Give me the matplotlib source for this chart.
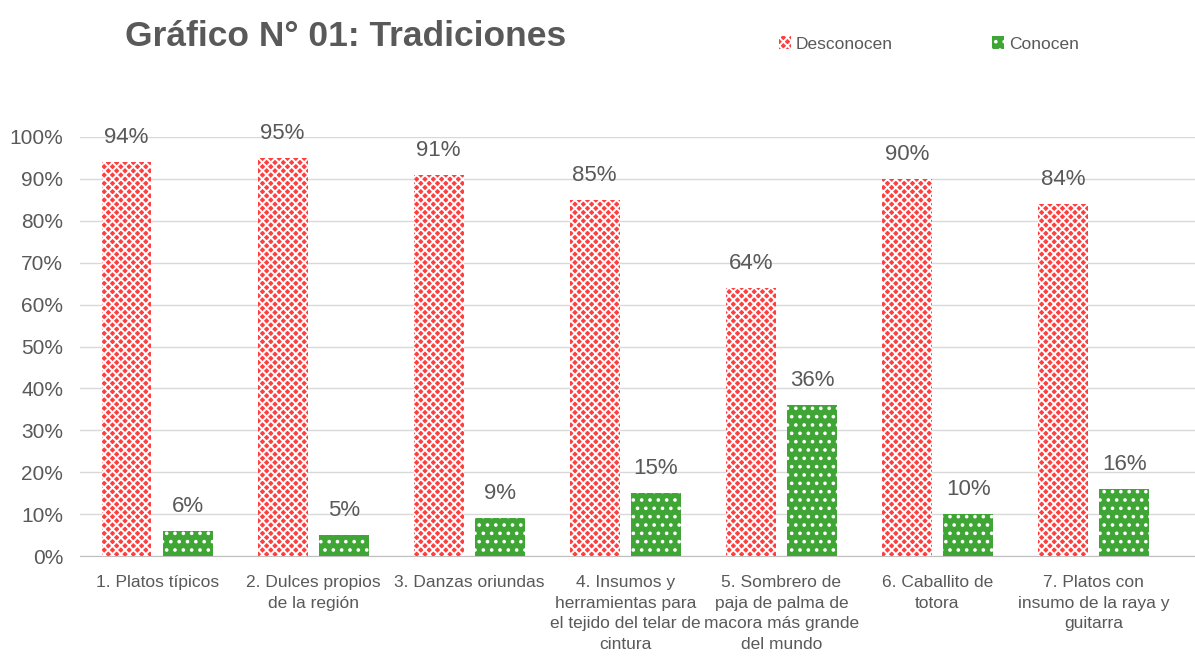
import numpy as np
import matplotlib.pyplot as plt

# data
categories = [
    "1. Platos típicos",
    "2. Dulces propios\nde la región",
    "3. Danzas oriundas",
    "4. Insumos y\nherramientas para\nel tejido del telar de\ncintura",
    "5. Sombrero de\npaja de palma de\nmacora más grande\ndel mundo",
    "6. Caballito de\ntotora",
    "7. Platos con\ninsumo de la raya y\nguitarra",
]
desconocen = [94, 95, 91, 85, 64, 90, 84]
conocen = [6, 5, 9, 15, 36, 10, 16]

narrow = ["Liberation Sans Narrow", "Liberation Sans", "DejaVu Sans"]
gray = "#595959"
red = "#FF3F3F"
green = "#3FA535"

plt.rcParams["font.family"] = narrow
plt.rcParams["hatch.linewidth"] = 1.4

fig = plt.figure(figsize=(11.95, 6.62), dpi=100)
ax = fig.add_axes([80 / 1195, 106 / 662, 1 - 80 / 1195, 419 / 662])

x = np.arange(len(categories))
w = 0.32
off = 0.196
b1 = ax.bar(x - off, np.array(desconocen) / 100, w, color=red, edgecolor="white",
            linewidth=0, hatch="xxxx", label="Desconocen", zorder=3)
b2 = ax.bar(x + off, np.array(conocen) / 100, w, color=green, edgecolor="white",
            linewidth=0, hatch="..", label="Conocen", zorder=3)

for bars, vals in [(b1, desconocen), (b2, conocen)]:
    for bar, v in zip(bars, vals):
        ax.annotate(f"{v}%", (bar.get_x() + bar.get_width() / 2, bar.get_height()),
                    xytext=(0, 10), textcoords="offset points", ha="center", va="bottom",
                    fontsize=16, color=gray, annotation_clip=False)

ax.set_xlim(-0.494, 6.65)
ax.set_ylim(0, 1.0)
ax.set_yticks(np.arange(0, 1.01, 0.1))
ax.set_yticklabels([f"{int(round(t * 100))}%" for t in np.arange(0, 1.01, 0.1)])
ax.set_xticks(x)
ax.set_xticklabels(categories, linespacing=1.45)
ax.tick_params(axis="y", length=0, pad=12, labelsize=15, labelcolor=gray)
ax.tick_params(axis="x", length=0, pad=14, labelsize=12.5, labelcolor=gray)
for lab in ax.get_xticklabels():
    lab.set_verticalalignment("top")

ax.grid(axis="y", color="#D9D9D9", linewidth=1, zorder=0)
for s in ["top", "right", "left"]:
    ax.spines[s].set_visible(False)
ax.spines["bottom"].set_color("#BFBFBF")

fig.text(125 / 1195, 1 - 37 / 662, "Gráfico N° 01: Tradiciones", fontsize=25.5,
         fontweight="bold", color=gray, va="center",
         family=["Liberation Sans", "DejaVu Sans"])

leg = fig.legend(handles=[b1, b2], loc="center left", bbox_to_anchor=(763 / 1195, 1 - 44 / 662),
                 ncol=2, frameon=False, fontsize=12.5, handlelength=0.7, handleheight=0.7,
                 columnspacing=5.7, handletextpad=0.3)
for t in leg.get_texts():
    t.set_color(gray)

fig.savefig("out.png", dpi=100)
